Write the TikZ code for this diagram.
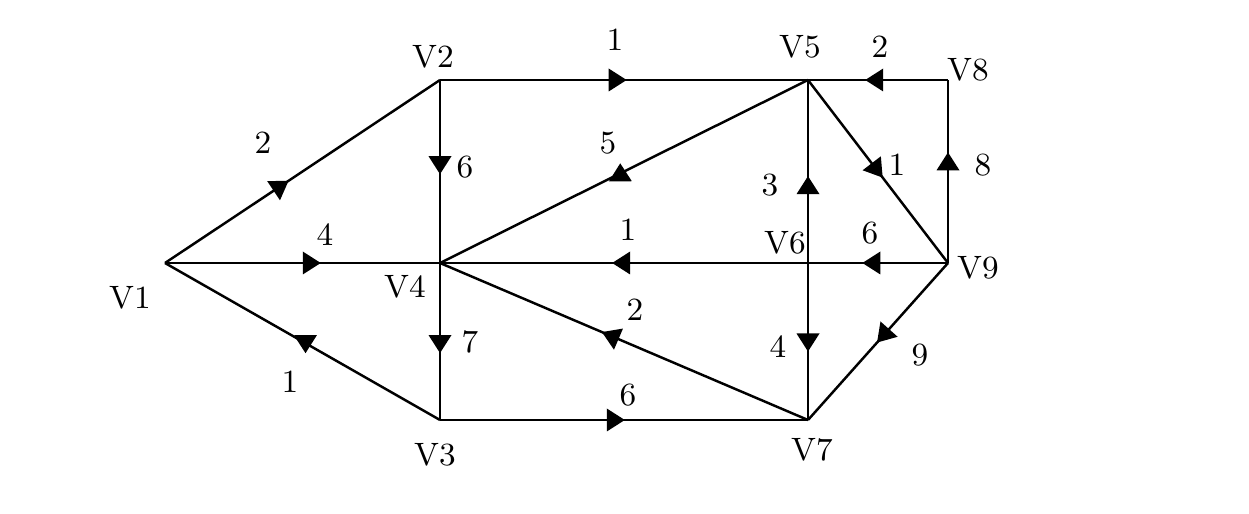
\documentclass[tikz,border=0pt]{standalone}
\usepackage{tikz}
\usetikzlibrary{positioning, decorations.markings}

\tikzset{
  edge/.style={line width=0.7pt, postaction={decorate},
    decoration={markings, mark=at position #1 with {\fill (1mm,0) -- (-0.8mm,1.15mm) -- (-0.8mm,-1.15mm) -- cycle;}}},
  edge/.default=0.5,
  tiltedge/.style 2 args={line width=0.7pt, postaction={decorate},
    decoration={markings, mark=at position #1 with {\fill[rotate=#2] (1mm,0) -- (-0.8mm,1.15mm) -- (-0.8mm,-1.15mm) -- cycle;}}},
  lbl/.style={inner sep=0pt, font=\fontsize{9.2}{11}\selectfont}
}

\begin{document}
\begin{tikzpicture}
\useasboundingbox (0, 0) rectangle (12.49, -5.14);

% vertices
\coordinate (v1) at (1.65, -2.63);
\coordinate (v2) at (4.40, -0.80);
\coordinate (v3) at (4.40, -4.20);
\coordinate (v4) at (4.40, -2.63);
\coordinate (v5) at (8.08, -0.80);
\coordinate (v6) at (8.08, -2.63);
\coordinate (v7) at (8.08, -4.20);
\coordinate (v8) at (9.48, -0.80);
\coordinate (v9) at (9.48, -2.63);

% vertex names
\node[lbl] (n1) at (1.30, -2.98) {V1};
\node[lbl] (n2) at (4.33, -0.57) {V2};
\node[lbl] (n3) at (4.35, -4.55) {V3};
\node[lbl] (n4) at (4.05, -2.87) {V4};
\node[lbl] (n5) at (8.00, -0.47) {V5};
\node[lbl] (n6) at (7.85, -2.43) {V6};
\node[lbl] (n7) at (8.12, -4.50) {V7};
\node[lbl] (n8) at (9.68, -0.70) {V8};
\node[lbl] (n9) at (9.78, -2.68) {V9};

% arcs
\draw[edge=0.42] (v1) -- (v2);
\draw[edge=0.53] (v1) -- (v4);
\draw[tiltedge={0.49}{120}] (v3) -- (v1);
\draw[edge=0.48] (v2) -- (v5);
\draw[edge=0.46] (v2) -- (v4);
\draw[tiltedge={0.49}{64}] (v4) -- (v5);
\draw[edge=0.505] (v6) -- (v4);
\draw[edge=0.54] (v9) -- (v6);
\draw[edge=0.51] (v4) -- (v3);
\draw[edge=0.535] (v7) -- (v4);
\draw[edge=0.475] (v3) -- (v7);
\draw[edge=0.42] (v6) -- (v5);
\draw[edge=0.50] (v6) -- (v7);
\draw[edge=0.49] (v5) -- (v9);
\draw[edge=0.55] (v9) -- (v8);
\draw[edge=0.52] (v8) -- (v5);
\draw[edge=0.46] (v9) -- (v7);

% weights
\node[lbl] (w12) at (2.63, -1.43) {2};
\node[lbl] (w14) at (3.25, -2.35) {4};
\node[lbl] (w31) at (2.90, -3.82) {1};
\node[lbl] (w25) at (6.15, -0.40) {1};
\node[lbl] (w24) at (4.65, -1.67) {6};
\node[lbl] (w45) at (6.08, -1.43) {5};
\node[lbl] (w64) at (6.28, -2.30) {1};
\node[lbl] (w96) at (8.70, -2.33) {6};
\node[lbl] (w43) at (4.70, -3.42) {7};
\node[lbl] (w74) at (6.35, -3.10) {2};
\node[lbl] (w37) at (6.28, -3.95) {6};
\node[lbl] (w65) at (7.70, -1.85) {3};
\node[lbl] (w67) at (7.78, -3.47) {4};
\node[lbl] (w59) at (8.97, -1.65) {1};
\node[lbl] (w98) at (9.83, -1.65) {8};
\node[lbl] (w85) at (8.80, -0.47) {2};
\node[lbl] (w97) at (9.20, -3.55) {9};

\end{tikzpicture}
\end{document}
